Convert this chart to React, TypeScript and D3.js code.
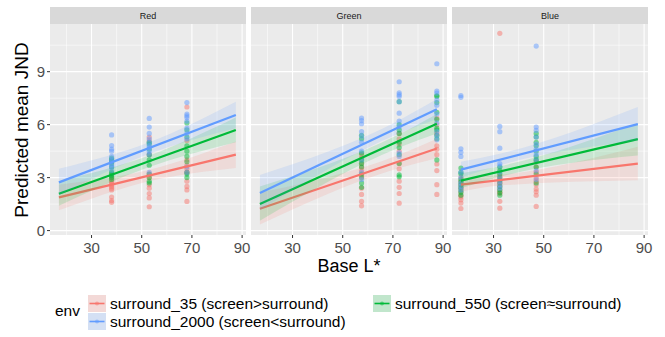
import { useEffect, useRef } from 'react';
import * as d3 from 'd3';

const panelNames = ['Red', 'Green', 'Blue'];
// env order: surround_35, surround_2000, surround_550
const envLabels = [
  'surround_35 (screen>surround)',
  'surround_2000 (screen<surround)',
  'surround_550 (screen≈surround)'
];
const envColors = ['#F8766D', '#619CFF', '#00BA38'];
// ggplot draws the groups in level order 35, 550, 2000
const drawOrder = [0, 2, 1];

const xTicks = [30, 50, 70, 90];
const xMinor = [20, 40, 60, 80];
const yTicks = [0, 3, 6, 9];
const yMinor = [1.5, 4.5, 7.5, 10.5];

// Base L* levels tested in each panel
const redLevels = [38, 53, 68];
const greenLevels = [57.5, 72.5, 87.5];
const blueLevels = [17, 32.5, 47];

// observed JND, one list per level
const red35 = [
  [3.0, 2.8, 2.7, 2.6, 2.5, 2.4, 2.3, 1.9, 1.7, 1.6],
  [5.3, 5.1, 4.3, 3.2, 3.0, 2.6, 2.4, 2.1, 1.85, 1.35],
  [7.0, 5.1, 4.0, 3.7, 3.5, 3.3, 2.8, 2.5, 2.3, 1.65]
];
const red2000 = [
  [5.42, 4.82, 4.61, 4.5, 4.2, 4.0, 3.9, 3.7, 3.6, 3.4],
  [6.35, 5.86, 5.5, 5.2, 5.0, 4.8, 4.7, 4.5, 4.3, 3.3],
  [7.25, 6.6, 6.5, 6.4, 6.2, 5.8, 5.5, 5.2, 3.6, 3.3]
];
const red550 = [
  [4.1, 4.0, 3.9, 3.8, 3.6, 3.3, 3.2, 3.1, 3.0, 2.9],
  [5.0, 4.9, 4.6, 4.3, 4.0, 3.7, 3.2, 3.0, 2.8, 2.7],
  [6.1, 5.7, 5.3, 4.8, 4.5, 4.2, 3.9, 3.3, 3.2, 3.0]
];

const green35 = [
  [4.3, 4.1, 3.8, 3.6, 3.4, 3.1, 2.4, 2.05, 1.65, 1.4],
  [5.5, 5.2, 4.9, 4.5, 3.8, 3.5, 2.8, 2.45, 2.1, 1.55],
  [6.37, 6.0, 5.5, 4.8, 4.6, 4.3, 3.77, 3.4, 2.6, 2.05]
];
const green2000 = [
  [6.37, 6.23, 6.05, 5.6, 5.35, 5.0, 4.5, 4.0, 3.3, 2.9],
  [8.43, 7.8, 7.7, 7.6, 7.3, 6.65, 6.2, 5.9, 4.4, 4.2],
  [9.45, 7.9, 7.78, 7.4, 7.1, 6.6, 6.1, 5.6, 5.37, 5.14]
];
const green550 = [
  [5.4, 5.2, 4.4, 4.0, 3.8, 3.6, 3.2, 3.0, 2.7, 2.45],
  [7.3, 6.0, 5.7, 5.5, 5.0, 4.7, 4.3, 3.8, 3.15, 3.05],
  [7.65, 7.6, 7.25, 6.7, 6.3, 5.8, 5.7, 5.4, 5.2, 4.0]
];

const blue35 = [
  [3.0, 2.8, 2.6, 2.4, 2.2, 2.0, 1.9, 1.75, 1.56, 1.25],
  [11.17, 3.1, 2.9, 2.7, 2.5, 2.3, 2.15, 2.1, 1.66, 1.27],
  [3.9, 3.6, 3.3, 3.0, 2.8, 2.6, 2.35, 2.2, 2.0, 1.37]
];
const blue2000 = [
  [7.65, 7.55, 4.63, 4.43, 4.2, 3.3, 3.0, 2.7, 2.5, 2.3],
  [5.9, 5.6, 4.67, 3.8, 3.65, 3.3, 3.0, 2.8, 2.6, 2.4],
  [10.45, 5.86, 5.67, 5.3, 4.9, 4.6, 4.3, 4.0, 3.4, 2.9]
];
const blue550 = [
  [3.54, 3.3, 3.2, 2.9, 2.75, 2.6, 2.45, 2.3, 2.15, 2.0],
  [3.6, 3.4, 3.2, 3.0, 2.85, 2.7, 2.5, 2.3, 2.15, 2.0],
  [5.5, 5.3, 5.0, 4.8, 4.5, 4.2, 4.0, 3.6, 3.2, 2.7]
];

// fitted line at the ends of the Base L* range
const fitRange = [17, 87.5];
const redFit = [[1.88, 4.3], [2.73, 6.55], [2.09, 5.7]];
const greenFit = [[1.24, 4.65], [2.13, 6.87], [1.5, 6.05]];
const blueFit = [[2.6, 3.79], [3.45, 6.03], [2.83, 5.18]];

// confidence band [lo, hi] at three Base L* values
const redBandX = [17, 53, 87.5];
const redBand = [
  [[1.15, 2.6], [2.8, 3.45], [3.55, 5.05]],
  [[2.0, 3.5], [4.35, 5.0], [5.8, 7.3]],
  [[1.4, 2.8], [3.6, 4.25], [5.0, 6.4]]
];
const greenBandX = [17, 72.5, 87.5];
const greenBand = [
  [[0.35, 2.15], [3.55, 4.3], [4.1, 5.2]],
  [[1.15, 3.15], [5.5, 6.25], [6.3, 7.45]],
  [[0.55, 2.5], [4.7, 5.45], [5.5, 6.6]]
];
const blueBandX = [17, 32.5, 87.5];
const blueBand = [
  [[2.2, 3.0], [2.55, 3.15], [2.85, 4.75]],
  [[3.0, 3.9], [3.7, 4.35], [5.1, 7.0]],
  [[2.4, 3.25], [3.05, 3.65], [4.25, 6.1]]
];

const panelLevels = [redLevels, greenLevels, blueLevels];
const panelPoints = [[red35, red2000, red550], [green35, green2000, green550], [blue35, blue2000, blue550]];
const panelFits = [redFit, greenFit, blueFit];
const panelBandX = [redBandX, greenBandX, blueBandX];
const panelBands = [redBand, greenBand, blueBand];

const font = 'Liberation Sans, Arial, Helvetica, sans-serif';

export default function App() {
  const svgRef = useRef<SVGSVGElement | null>(null);

  useEffect(() => {
    if (!svgRef.current) return;
    const svg = d3.select(svgRef.current);
    svg.selectAll('*').remove();

    const width = 665;
    const height = 337;
    svg.attr('width', width).attr('height', height);
    svg.append('rect').attr('width', width).attr('height', height).attr('fill', 'white');

    const panelW = 196;
    const panelLefts = [50, 251, 452];
    const stripTop = 7;
    const panelTop = 24;
    const panelBottom = 235;

    const x = d3.scaleLinear().domain([13.45, 91.55]).range([0, panelW]);
    const y = d3.scaleLinear().domain([-0.25, 11.7]).range([panelBottom, panelTop]);

    panelNames.forEach((name, p) => {
      const g = svg.append('g').attr('transform', `translate(${panelLefts[p]},0)`);

      // strip
      g.append('rect')
        .attr('x', 0).attr('y', stripTop)
        .attr('width', panelW).attr('height', panelTop - stripTop)
        .attr('fill', '#D9D9D9');
      g.append('text')
        .attr('x', panelW / 2).attr('y', 18.7)
        .attr('text-anchor', 'middle')
        .style('font-family', font).style('font-size', '9px')
        .attr('fill', '#1A1A1A')
        .text(name);

      // panel background + grid
      g.append('rect')
        .attr('x', 0).attr('y', panelTop)
        .attr('width', panelW).attr('height', panelBottom - panelTop)
        .attr('fill', '#EBEBEB');

      g.selectAll('.xminor').data(xMinor).enter().append('line')
        .attr('x1', d => x(d)).attr('x2', d => x(d))
        .attr('y1', panelTop).attr('y2', panelBottom)
        .attr('stroke', 'white').attr('stroke-width', 0.55);
      g.selectAll('.yminor').data(yMinor).enter().append('line')
        .attr('x1', 0).attr('x2', panelW)
        .attr('y1', d => y(d)).attr('y2', d => y(d))
        .attr('stroke', 'white').attr('stroke-width', 0.55);
      g.selectAll('.xmajor').data(xTicks).enter().append('line')
        .attr('x1', d => x(d)).attr('x2', d => x(d))
        .attr('y1', panelTop).attr('y2', panelBottom)
        .attr('stroke', 'white').attr('stroke-width', 1.1);
      g.selectAll('.ymajor').data(yTicks).enter().append('line')
        .attr('x1', 0).attr('x2', panelW)
        .attr('y1', d => y(d)).attr('y2', d => y(d))
        .attr('stroke', 'white').attr('stroke-width', 1.1);

      // points
      const levels = panelLevels[p];
      const pts: { lx: number; v: number; e: number }[] = [];
      levels.forEach((lx, li) => {
        drawOrder.forEach(e => {
          panelPoints[p][e][li].forEach(v => pts.push({ lx, v, e }));
        });
      });
      g.selectAll('.pt').data(pts).enter().append('circle')
        .attr('cx', d => x(d.lx))
        .attr('cy', d => y(d.v))
        .attr('r', 2.6)
        .attr('fill', d => envColors[d.e])
        .attr('fill-opacity', 0.5);

      // smooths: ribbon then line per group
      const bx = panelBandX[p];
      drawOrder.forEach(e => {
        const band = panelBands[p][e].map((b, i) => ({ bx: bx[i], lo: b[0], hi: b[1] }));
        const area = d3.area<{ bx: number; lo: number; hi: number }>()
          .x(d => x(d.bx))
          .y0(d => y(d.lo))
          .y1(d => y(d.hi))
          .curve(d3.curveMonotoneX);
        g.append('path')
          .attr('d', area(band))
          .attr('fill', envColors[e])
          .attr('fill-opacity', 0.15);

        const fit = panelFits[p][e].map((v, i) => [fitRange[i], v] as [number, number]);
        const line = d3.line<[number, number]>().x(d => x(d[0])).y(d => y(d[1]));
        g.append('path')
          .attr('d', line(fit))
          .attr('fill', 'none')
          .attr('stroke', envColors[e])
          .attr('stroke-width', 2.2);
      });

      // x axis
      const xa = g.append('g');
      xa.selectAll('line').data(xTicks).enter().append('line')
        .attr('x1', d => x(d)).attr('x2', d => x(d))
        .attr('y1', panelBottom).attr('y2', panelBottom + 3)
        .attr('stroke', '#333333').attr('stroke-width', 1);
      xa.selectAll('text').data(xTicks).enter().append('text')
        .attr('x', d => x(d)).attr('y', panelBottom + 17.5)
        .attr('text-anchor', 'middle')
        .style('font-family', font).style('font-size', '15px')
        .attr('fill', '#4D4D4D')
        .text(d => String(d));

      // y axis only on the first panel
      if (p === 0) {
        const ya = g.append('g');
        ya.selectAll('line').data(yTicks).enter().append('line')
          .attr('x1', -3).attr('x2', 0)
          .attr('y1', d => y(d)).attr('y2', d => y(d))
          .attr('stroke', '#333333').attr('stroke-width', 1);
        ya.selectAll('text').data(yTicks).enter().append('text')
          .attr('x', -5).attr('y', d => y(d) + 5.3)
          .attr('text-anchor', 'end')
          .style('font-family', font).style('font-size', '15px')
          .attr('fill', '#4D4D4D')
          .text(d => String(d));
      }
    });

    // axis titles
    svg.append('text')
      .attr('x', 349).attr('y', 272)
      .attr('text-anchor', 'middle')
      .style('font-family', font).style('font-size', '18px')
      .attr('fill', 'black')
      .text('Base L*');
    svg.append('text')
      .attr('transform', 'translate(28,130) rotate(-90)')
      .attr('text-anchor', 'middle')
      .style('font-family', font).style('font-size', '19px')
      .attr('fill', 'black')
      .text('Predicted mean JND');

    // legend
    const legend = svg.append('g');
    legend.append('text')
      .attr('x', 55).attr('y', 316)
      .style('font-family', font).style('font-size', '15.5px')
      .attr('fill', 'black')
      .text('env');

    // byrow layout: 35 and 550 on the first row, 2000 on the second
    const slots = [
      { e: 0, kx: 88, ky: 295 },
      { e: 2, kx: 373, ky: 295 },
      { e: 1, kx: 88, ky: 313 }
    ];
    slots.forEach(s => {
      const kg = legend.append('g').attr('transform', `translate(${s.kx},${s.ky})`);
      kg.append('rect').attr('width', 18).attr('height', 17).attr('fill', '#F2F2F2');
      kg.append('rect').attr('width', 18).attr('height', 17)
        .attr('fill', envColors[s.e]).attr('fill-opacity', 0.2);
      kg.append('line')
        .attr('x1', 1.5).attr('x2', 16.5).attr('y1', 8.5).attr('y2', 8.5)
        .attr('stroke', envColors[s.e]).attr('stroke-width', 1.6);
      kg.append('circle').attr('cx', 9).attr('cy', 8.5).attr('r', 2)
        .attr('fill', envColors[s.e]).attr('fill-opacity', 0.5);
      legend.append('text')
        .attr('x', s.kx + 22).attr('y', s.ky + 14)
        .style('font-family', font).style('font-size', '15.5px')
        .attr('fill', 'black')
        .text(envLabels[s.e]);
    });
  }, []);

  return (
    <svg
      ref={svgRef}
      width={665}
      height={337}
      style={{ position: 'absolute', left: 0, top: 0, display: 'block' }}
    />
  );
}
